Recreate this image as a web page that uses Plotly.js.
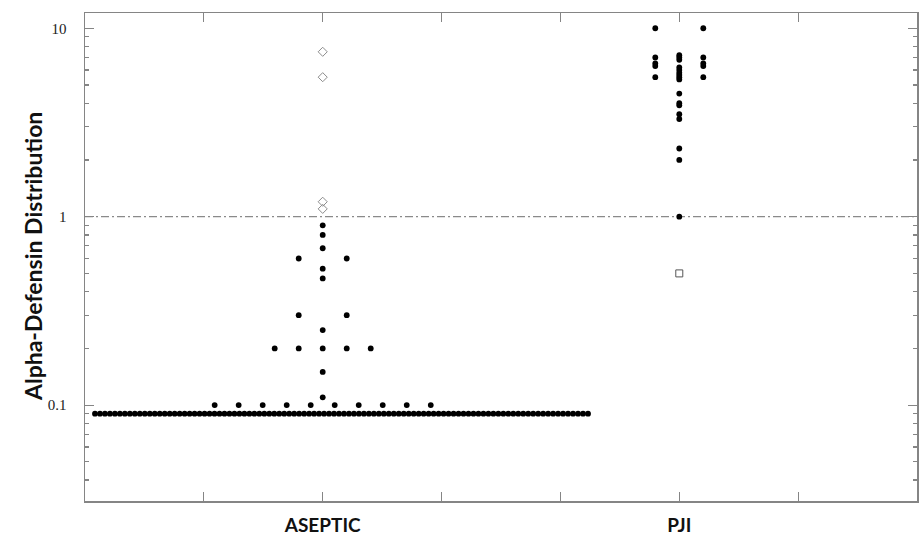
<!DOCTYPE html>
<html><head><meta charset="utf-8">
<script src="https://cdn.plot.ly/plotly-3.0.1.min.js"></script>
<style>html,body{margin:0;padding:0;background:#fff}</style>
</head><body><div id="chart" style="width:919px;height:536px"></div>
<script>
// ---- data ----
const categories = ['ASEPTIC', 'PJI'];
const asepticValues = [0.09, 0.1, 0.11, 0.15, 0.2, 0.25, 0.3, 0.47, 0.53, 0.6, 0.68, 0.8, 0.9];
const asepticCounts = [100, 10, 1, 1, 5, 1, 2, 1, 1, 2, 1, 1, 1];
const asepticOutliers = [1.1, 1.2, 5.5, 7.5];
const pjiValues = [1.0, 2.0, 2.3, 3.3, 3.5, 3.9, 4.0, 4.5, 5.35, 5.5, 5.65, 5.8, 6.0, 6.2, 6.3, 6.5, 6.8, 7.0, 7.2, 10];
const pjiCounts = [1, 1, 1, 1, 1, 1, 1, 1, 1, 3, 1, 1, 1, 1, 2, 2, 1, 3, 1, 2];
const pjiOutliers = [0.5];
const cutoff = 1;
const yTickVals = [0.1, 1, 10];
const yTickText = ['0.1', '1', '10'];
const yTitle = 'Alpha-Defensin Distribution';

// ---- layout helpers ----
const catX = {ASEPTIC: 2, PJI: 5};
const XMIN = 0, XMAX = 7;
const SLOT = 0.202;      // horizontal step for a few tied values
const DENSE = 0.0419;    // compressed step for long rows of ties
const EDGE = 0.084;      // keep rows inside the frame

function rowOffsets(n) {
  if (n === 2) return [-SLOT, SLOT];
  const step = n > 12 ? DENSE : SLOT;
  return Array.from({length: n}, (_, i) => (i - (n - 1) / 2) * step);
}
function dotLayout(values, counts, cx) {
  const xs = [], ys = [];
  values.forEach((v, k) => {
    let offs = rowOffsets(counts[k]).map(o => cx + o);
    const left = Math.min(...offs), right = Math.max(...offs);
    if (left < XMIN + EDGE) offs = offs.map(o => o + (XMIN + EDGE - left));
    if (right > XMAX - EDGE) offs = offs.map(o => o - (right - (XMAX - EDGE)));
    offs.forEach(x => { xs.push(x); ys.push(v); });
  });
  return {xs, ys};
}

const a = dotLayout(asepticValues, asepticCounts, catX.ASEPTIC);
const p = dotLayout(pjiValues, pjiCounts, catX.PJI);

const minorVals = [];
[0.01, 0.1, 1].forEach(d => { for (let m = 2; m <= 9; m++) minorVals.push(+(d * m).toPrecision(3)); });

const traces = [
  {x: [XMIN, XMAX], y: [cutoff, cutoff], mode: 'lines', hoverinfo: 'skip',
   line: {color: '#8a8a8a', width: 1.3, dash: '8px,3px,2px,3px'}},
  {x: a.xs, y: a.ys, mode: 'markers', name: categories[0],
   marker: {symbol: 'circle', size: 5.8, color: '#000'}},
  {x: asepticOutliers.map(() => catX.ASEPTIC), y: asepticOutliers, mode: 'markers',
   marker: {symbol: 'diamond-open', size: 7, color: '#8c8c8c', line: {width: 1}}},
  {x: p.xs, y: p.ys, mode: 'markers', name: categories[1],
   marker: {symbol: 'circle', size: 5.8, color: '#000'}},
  {x: pjiOutliers.map(() => catX.PJI), y: pjiOutliers, mode: 'markers',
   marker: {symbol: 'square-open', size: 7, color: '#555', line: {width: 1}}}
];

const axisColor = '#858585';
const layout = {
  width: 919, height: 536,
  margin: {l: 85, r: 2, t: 13, b: 35, pad: 0},
  paper_bgcolor: '#fff', plot_bgcolor: '#fff',
  showlegend: false,
  xaxis: {
    range: [XMIN, XMAX], showgrid: false, zeroline: false,
    tickvals: [1, 2, 3, 4, 5, 6],
    ticktext: ['', categories[0], '', '', categories[1], ''],
    ticks: 'inside', ticklen: 9, tickwidth: 1.2, tickcolor: axisColor,
    showline: true, linecolor: axisColor, linewidth: 1.5, mirror: 'ticks',
    ticklabelstandoff: 7,
    tickfont: {family: 'Lato, "Open Sans", sans-serif', size: 19, weight: 'bold', color: '#111'}
  },
  yaxis: {
    type: 'log', range: [-1.509, 1.081], showgrid: false, zeroline: false,
    tickvals: yTickVals, ticktext: yTickText,
    ticks: 'inside', ticklen: 9, tickwidth: 1.2, tickcolor: axisColor,
    minor: {tickvals: minorVals, ticks: 'inside', ticklen: 4, tickwidth: 1.2, tickcolor: axisColor, showgrid: false},
    showline: true, linecolor: axisColor, linewidth: 1.5, mirror: 'ticks',
    ticklabelstandoff: 14,
    tickfont: {family: '"Liberation Serif", serif', size: 15, color: '#222'}
  },
  annotations: [{
    text: yTitle, xref: 'paper', yref: 'paper', x: -0.0625, y: 0.5,
    xanchor: 'center', yanchor: 'middle', textangle: -90, showarrow: false,
    font: {family: 'Lato, "Open Sans", sans-serif', size: 23, weight: 'bold', color: '#111'}
  }]
};

Plotly.newPlot('chart', traces, layout, {displayModeBar: false, staticPlot: true});
</script>
</body></html>
